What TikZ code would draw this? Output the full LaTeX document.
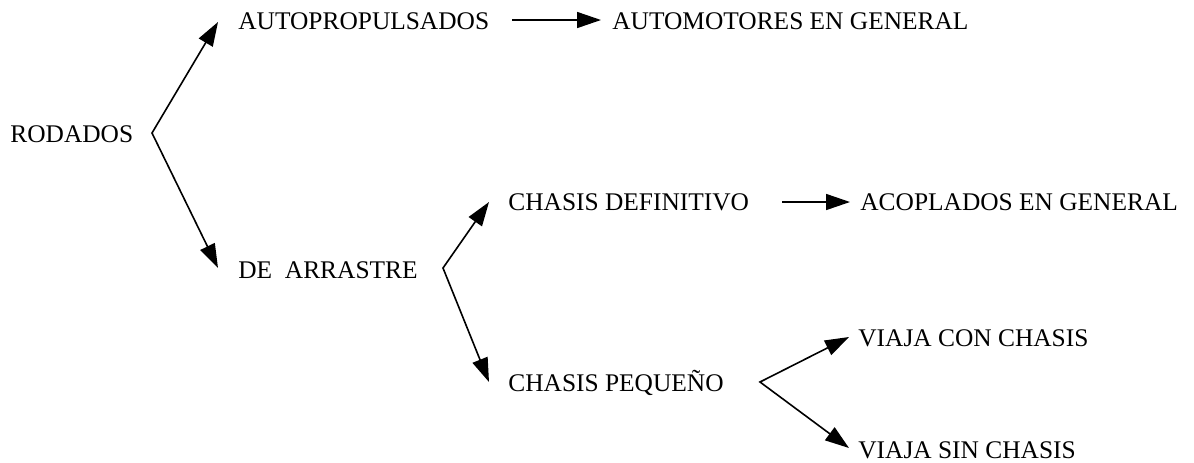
\documentclass[tikz,border=0pt]{standalone}
\usepackage{fontspec}
\setmainfont{Liberation Serif}
\usetikzlibrary{arrows.meta}

\tikzset{
  label/.style={anchor=base west, inner sep=0pt, font=\fontsize{12.7}{15}\selectfont},
  arr/.style={line width=0.8pt, -{Triangle[length=12pt, width=8pt]}},
  fork/.style={line width=0.8pt, {Triangle[length=12pt, width=8pt]}-{Triangle[length=12pt, width=8pt]}}
}

\begin{document}
\begin{tikzpicture}[x=0.5pt, y=-0.5pt]
			\useasboundingbox (0,0) rectangle (1194,462);
			
			% Text nodes
			\node[label] (rod) at (10,142) {RODADOS};
			\node[label] (auto) at (238,29) {AUTOPROPULSADOS};
			\node[label] (autom) at (612,29) {AUTOMOTORES EN GENERAL};
			\node[label] (arr) at (238,278) {DE\ \ ARRASTRE};
			\node[label] (def) at (508,210) {CHASIS DEFINITIVO};
			\node[label] (acop) at (860,210) {ACOPLADOS EN GENERAL};
			\node[label] (peq) at (508,391) {CHASIS PEQUEÑO};
			\node[label] (con) at (858,346) {VIAJA CON CHASIS};
			\node[label] (sin) at (858,458) {VIAJA SIN CHASIS};
			
			% Fork points
			\coordinate (v1) at (152,133);
			\coordinate (v2) at (443,268);
			\coordinate (v3) at (760,382);
			
			% Arrow ends
			\coordinate (t1) at (218,22);
			\coordinate (t2) at (218,268);
			\coordinate (t3) at (489,202);
			\coordinate (t4) at (489,382);
			\coordinate (t5) at (849,337);
			\coordinate (t6) at (849,448);
			
			% Forks
			\draw[fork] (t1) -- (v1) -- (t2);
			\draw[fork] (t3) -- (v2) -- (t4);
			\draw[fork] (t5) -- (v3) -- (t6);
			
			% Straight arrows
			\draw[arr] (512,20) coordinate (h1) -- (601,20) coordinate (h2);
			\draw[arr] (782,202) coordinate (h3) -- (850,202) coordinate (h4);
		\end{tikzpicture}
\end{document}
